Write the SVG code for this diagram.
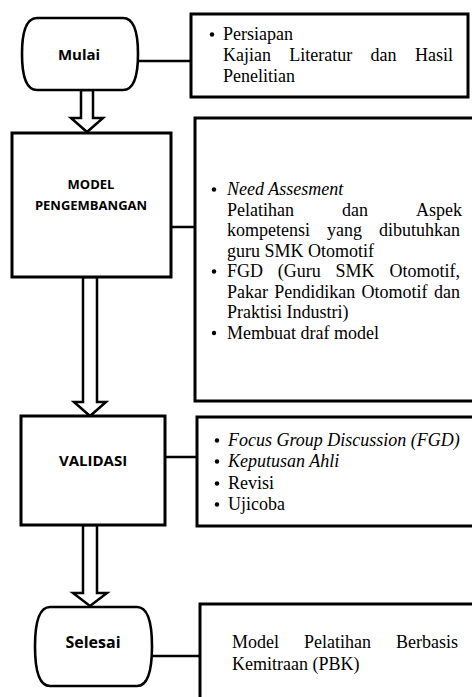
<svg xmlns="http://www.w3.org/2000/svg" width="472" height="697" viewBox="0 0 472 697">
<style>
.shape{fill:#fff;stroke:#000;stroke-width:2.6}
.box{fill:#fff;stroke:#000;stroke-width:3}
.arrow{fill:#fff;stroke:#000;stroke-width:2.5;stroke-linejoin:miter}
.line{stroke:#000;stroke-width:2.5;fill:none}
.lbl{font-family:"Open Sans","DejaVu Sans",sans-serif;font-weight:bold;text-anchor:middle;fill:#000}
.t{font-family:"Liberation Serif","Times New Roman",serif;font-size:18px;fill:#000}
.i{font-style:italic}
.e{text-anchor:end}
.m{text-anchor:middle}
.b{fill:#000}
</style>
<rect width="472" height="697" fill="#fff"/>
<g id="connectors">
<line class="line" x1="138" y1="61" x2="191" y2="61"/>
<line class="line" x1="171" y1="227" x2="195" y2="227"/>
<line class="line" x1="165" y1="457" x2="197" y2="457"/>
<line class="line" x1="152" y1="656" x2="200" y2="656"/>
<polygon class="arrow" points="81,90 81,118 71,118 87,132 103,118 93,118 93,90"/>
<polygon class="arrow" points="83,277 83,402 74,402 90,416 106,402 97,402 97,277"/>
<polygon class="arrow" points="83,525 83,593 73,593 90,606 107,593 97,593 97,525"/>
</g>
<g id="mulai">
<path class="shape" d="M37,18 H123 C135,18 138,36 138,54 C138,72 135,90 123,90 H37 C25,90 22,72 22,54 C22,36 25,18 37,18 Z"/>
<text class="lbl" x="79" y="60" font-size="15">Mulai</text>
</g>
<g id="persiapan">
<rect class="box" x="191" y="14" width="277" height="83"/>
<circle class="b" cx="212" cy="34.5" r="2.2"/>
<text class="t" x="223" y="40">Persiapan</text>
<text class="t" x="223" y="61">Kajian</text>
<text class="t m" x="320.8" y="61">Literatur</text>
<text class="t m" x="383.6" y="61">dan</text>
<text class="t e" x="453" y="61">Hasil</text>
<text class="t" x="223" y="82">Penelitian</text>
</g>
<g id="model">
<rect class="box" x="12" y="133" width="159" height="144"/>
<text class="lbl" x="91" y="189" font-size="13">MODEL</text>
<text class="lbl" x="91" y="210" font-size="13">PENGEMBANGAN</text>
</g>
<g id="model-detail">
<rect class="box" x="195" y="118" width="300" height="283"/>
<circle class="b" cx="214" cy="189.5" r="2.2"/>
<text class="t i" x="227" y="195">Need Assesment</text>
<text class="t" x="227" y="215.5">Pelatihan</text>
<text class="t m" x="355" y="215.5">dan</text>
<text class="t e" x="462" y="215.5">Aspek</text>
<text class="t" x="227" y="236">kompetensi</text>
<text class="t m" x="344.5" y="236">yang</text>
<text class="t e" x="460" y="236">dibutuhkan</text>
<text class="t" x="227" y="256.5">guru SMK Otomotif</text>
<circle class="b" cx="214" cy="271.5" r="2.2"/>
<text class="t" x="227" y="277">FGD</text>
<text class="t" x="277.8" y="277">(Guru</text>
<text class="t" x="335.6" y="277">SMK</text>
<text class="t e" x="460" y="277">Otomotif,</text>
<text class="t" x="227" y="297.5">Pakar</text>
<text class="t" x="274.3" y="297.5">Pendidikan</text>
<text class="t" x="361.6" y="297.5">Otomotif</text>
<text class="t e" x="460" y="297.5">dan</text>
<text class="t" x="227" y="318">Praktisi Industri)</text>
<circle class="b" cx="214" cy="333" r="2.2"/>
<text class="t" x="227" y="338.5">Membuat draf model</text>
</g>
<g id="validasi">
<rect class="box" x="21" y="416" width="144" height="109"/>
<text class="lbl" x="93" y="466" font-size="15">VALIDASI</text>
</g>
<g id="validasi-detail">
<rect class="box" x="197" y="417" width="300" height="109"/>
<circle class="b" cx="217" cy="440.5" r="2.2"/>
<text class="t i" x="228" y="446">Focus Group Discussion (FGD)</text>
<circle class="b" cx="217" cy="461.5" r="2.2"/>
<text class="t i" x="228" y="467">Keputusan Ahli</text>
<circle class="b" cx="217" cy="483.5" r="2.2"/>
<text class="t" x="228" y="489">Revisi</text>
<circle class="b" cx="217" cy="504.5" r="2.2"/>
<text class="t" x="228" y="510">Ujicoba</text>
</g>
<g id="selesai">
<path class="shape" d="M50,607 H137 C149,607 152,625 152,646.5 C152,668 149,686 137,686 H50 C38,686 35,668 35,646.5 C35,625 38,607 50,607 Z"/>
<text class="lbl" x="93" y="648" font-size="16">Selesai</text>
</g>
<g id="hasil">
<rect class="box" x="200" y="604" width="300" height="120"/>
<text class="t" x="232" y="648">Model</text>
<text class="t" x="304" y="648">Pelatihan</text>
<text class="t e" x="458" y="648">Berbasis</text>
<text class="t" x="232" y="670">Kemitraan (PBK)</text>
</g>
</svg>
